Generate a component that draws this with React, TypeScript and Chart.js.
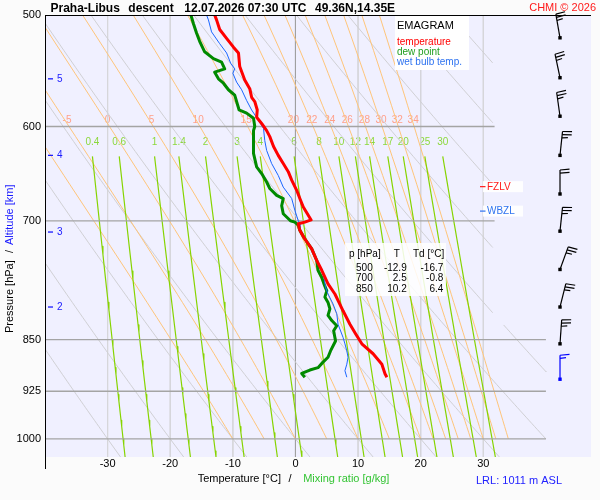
import React, { useEffect, useRef } from "react";
import { Chart, registerables } from "chart.js";

Chart.register(...registerables);

// ---------------- data ----------------
// temperature profile (pressure hPa / °C)
const tempP = [500, 504, 512, 519.5, 527, 532, 544, 556, 564, 572, 576, 584, 591, 597, 604, 610, 620, 629, 637.5, 646, 655, 666, 675, 684.5, 692, 699, 701.5, 703.4, 711, 720, 733, 747, 759, 776, 789, 811, 829, 842, 856, 870, 885, 899, 904];
const tempT = [-12.9, -12.6, -12.1, -11.0, -9.9, -9.1, -8.9, -8.1, -7.3, -7.0, -6.5, -6.1, -6.2, -5.4, -4.6, -4.1, -3.5, -2.75, -1.95, -1.15, -0.6, 0.2, 0.7, 1.25, 1.9, 2.5, 1.5, 0.45, 0.7, 1.4, 2.6, 3.4, 4.2, 5.2, 6.3, 7.6, 8.7, 9.6, 10.6, 12.4, 13.8, 14.3, 14.6];
// dew point profile
const dewP = [500, 507, 515, 522, 531, 537, 540, 546, 549, 555, 559, 565, 570, 578, 584, 587, 592, 600, 604, 617, 627, 641, 648, 657, 664, 671.5, 675, 683, 692, 700, 701.5, 705, 711, 720, 733, 747, 759, 768, 776, 785, 793, 800, 808.5, 817, 824, 831, 838, 852, 866, 875, 882, 890, 893.5, 898.5, 904];
const dewT = [-16.7, -16.3, -15.8, -15.3, -14.5, -13.1, -11.8, -11.3, -12.9, -12.3, -11.5, -10.7, -9.7, -9.3, -9.0, -7.8, -6.7, -6.5, -6.7, -6.7, -6.7, -6.2, -5.4, -4.6, -4.1, -3.0, -1.95, -2.2, -1.95, -0.8, -0.1, 0.45, 0.7, 1.4, 2.6, 3.4, 3.6, 4.2, 4.55, 5.0, 4.7, 5.2, 5.5, 5.2, 5.8, 6.6, 6.1, 6.4, 5.6, 5.2, 4.4, 3.6, 2.3, 1.0, 1.5];
// wet bulb temperature profile
const wbP = [500, 504, 514, 524, 532, 541, 546, 550, 558, 565, 575, 584, 594, 602, 614, 624, 637.5, 650, 662.5, 675, 688, 700, 703, 711, 720, 733, 747, 759, 770, 780, 789, 802, 815, 829, 847, 856, 866, 875, 885, 894.5, 904];
const wbT = [-14.2, -13.9, -13.4, -12.1, -11.0, -10.35, -9.7, -10.0, -9.4, -8.6, -7.8, -7.0, -5.9, -5.1, -4.9, -4.6, -3.8, -2.75, -1.95, -0.6, -0.1, 0.45, 0.7, 0.7, 1.4, 2.6, 3.4, 4.2, 4.6, 4.8, 5.2, 6.0, 6.6, 6.8, 7.6, 7.9, 8.2, 8.4, 8.2, 7.9, 8.2];

// axes / grid
const pressureTicks = [500, 600, 700, 850, 925, 1000];
const pressureLines = [600, 700, 850, 925, 1000];
const pressureLineEndT = [31.8, 31.8, 40, 40, 40];
const tempTicks = [-30, -20, -10, 0, 10, 20, 30];
const altKm = ["5", "4", "3", "2"];
const altP = [555, 629, 713, 806];

// diagram isolines
const mixingRatios = [0.4, 0.6, 1, 1.4, 2, 3, 4, 6, 8, 10, 12, 14, 17, 20, 25, 30];
const mixingRatioLabels = ["0.4", "0.6", "1", "1.4", "2", "3", "4", "6", "8", "10", "12", "14", "17", "20", "25", "30"];
const thetaW = [-10, -5, 0, 5, 10, 15, 20, 22, 24, 26, 28, 30, 32, 34];
const thetaWLabeled = [-5, 0, 5, 10, 15, 20, 22, 24, 26, 28, 30, 32, 34];
const dryTheta = [-30, -20, -10, 0, 10, 20, 30, 40, 50, 60, 70, 80, 90];

// winds (0.5 km steps, 5.5 km .. 1 km)
const windP = [519, 554, 590, 629, 670, 712, 758, 806, 856, 907];
const windDir = [350, 348, 352, 6, 0, 6, 20, 14, 4, 0];
const windKt = [25, 25, 25, 25, 20, 25, 25, 25, 25, 15];

// table
const tableP = ["500", "700", "850"];
const tableT = ["-12.9", "2.5", "10.2"];
const tableTd = ["-16.7", "-0.8", "6.4"];

const fzlvP = 662;
const wbzlP = 689;

// ---------------- helpers ----------------
const FONT = '"Liberation Sans", Arial, Helvetica, sans-serif';
const KAPPA = 0.2857;

function dryT(thetaC: number, p: number) {
  return (thetaC + 273.15) * Math.pow(p / 1000, KAPPA) - 273.15;
}
function dryP(thetaC: number, tC: number) {
  return 1000 * Math.pow((tC + 273.15) / (thetaC + 273.15), 1 / KAPPA);
}
function mixT(w: number, p: number) {
  const e = (w * p) / (622 + w);
  const l = Math.log(e / 6.112);
  return (243.5 * l) / (17.67 - l);
}
function moistPts(twC: number) {
  const Rd = 287.04, Cp = 1005.7, Lv = 2.501e6, eps = 0.622;
  const f = (T: number, p: number) => {
    const Tc = T - 273.15;
    const es = 6.112 * Math.exp((17.67 * Tc) / (Tc + 243.5));
    const rs = (eps * es) / (p - es);
    return (Rd * T + Lv * rs) / (Cp + (Lv * Lv * rs * eps) / (Rd * T * T)) / p;
  };
  let T = twC + 273.15;
  let p = 1000;
  const pts = [{ x: twC, y: 1000 }];
  const dp = -2;
  for (let i = 0; i < 250; i++) {
    const k1 = f(T, p);
    const k2 = f(T + (k1 * dp) / 2, p + dp / 2);
    T += k2 * dp;
    p += dp;
    if (i % 5 === 4) pts.push({ x: T - 273.15, y: p });
  }
  return pts;
}
function interpT(pts: { x: number; y: number }[], p: number) {
  for (let i = 0; i < pts.length - 1; i++) {
    const a = pts[i], b = pts[i + 1];
    if ((a.y - p) * (b.y - p) <= 0) {
      const f = (p - a.y) / (b.y - a.y);
      return a.x + f * (b.x - a.x);
    }
  }
  return pts[pts.length - 1].x;
}
function drySegments(theta: number) {
  const ps: number[] = [];
  for (let p = 500; p <= 1030; p += 5) ps.push(p);
  [dryP(theta, 31.5), dryP(theta, 40)].forEach((p) => {
    if (p > 500 && p < 1030) ps.push(p);
  });
  ps.sort((a, b) => a - b);
  const segs: { x: number; y: number }[][] = [];
  let cur: { x: number; y: number }[] = [];
  ps.forEach((p) => {
    const t = dryT(theta, p);
    const hidden = t > 40.001 || (t > 31.501 && p < 830);
    if (hidden) {
      if (cur.length > 1) segs.push(cur);
      cur = [];
    } else cur.push({ x: t, y: p });
  });
  if (cur.length > 1) segs.push(cur);
  return segs;
}

function zip(ps: number[], ts: number[]) {
  return ps.map((p, i) => ({ x: ts[i], y: p }));
}

function line(data: any[], color: string, width: number, order: number) {
  return {
    data,
    borderColor: color,
    backgroundColor: color,
    borderWidth: width,
    pointRadius: 0,
    showLine: true,
    fill: false,
    tension: 0,
    order,
    borderJoinStyle: "round" as const,
  };
}

function buildDatasets() {
  const ds: any[] = [];
  ds.push(line(zip(tempP, tempT), "#ff0000", 3, 0));
  ds.push(line(zip(wbP, wbT), "#1a66ff", 1, 1));
  ds.push(line(zip(dewP, dewT), "#008a00", 3, 2));
  pressureLines.forEach((p, i) =>
    ds.push(line([{ x: -40, y: p }, { x: pressureLineEndT[i], y: p }], "#a4a4a4", 1.3, 5))
  );
  mixingRatios.forEach((w) => {
    const pts = [];
    for (let p = 630; p <= 1030; p += 10) pts.push({ x: mixT(w, p), y: p });
    ds.push(line(pts, "#86d400", 1.2, 6));
  });
  thetaW.forEach((tw) => ds.push(line(moistPts(tw), "#ffc57a", 1, 7)));
  dryTheta.forEach((th) => drySegments(th).forEach((s) => ds.push(line(s, "#d0d0d4", 1, 8))));
  tempTicks.forEach((t) =>
    ds.push(line([{ x: t, y: 500 }, { x: t, y: 1030 }], t === 0 ? "#a0a0a0" : "#d6d6da", 1, 9))
  );
  return ds;
}

function text(
  ctx: CanvasRenderingContext2D,
  s: string,
  x: number,
  y: number,
  size: number,
  color: string,
  align: CanvasTextAlign = "left",
  baseline: CanvasTextBaseline = "middle",
  bold = false
) {
  ctx.font = `${bold ? "bold " : ""}${size}px ${FONT}`;
  ctx.fillStyle = color;
  ctx.textAlign = align;
  ctx.textBaseline = baseline;
  ctx.fillText(s, x, y);
}

function drawBarb(ctx: CanvasRenderingContext2D, x: number, y: number, dirDeg: number, kt: number, color: string) {
  const L = 24;
  const d = (dirDeg * Math.PI) / 180;
  const ux = Math.sin(d), uy = -Math.cos(d);
  const px = Math.cos(d), py = Math.sin(d);
  const tx = x + ux * L, ty = y + uy * L;
  ctx.strokeStyle = color;
  ctx.fillStyle = color;
  ctx.lineWidth = 1.2;
  ctx.beginPath();
  ctx.moveTo(x, y);
  ctx.lineTo(tx, ty);
  ctx.stroke();
  ctx.fillRect(x - 1.7, y - 1.7, 3.4, 3.4);
  const feather = (pos: number, len: number) => {
    const sx = tx - ux * pos, sy = ty - uy * pos;
    ctx.beginPath();
    ctx.moveTo(sx, sy);
    ctx.lineTo(sx + px * len + ux * 0.8, sy + py * len + uy * 0.8);
    ctx.stroke();
  };
  let rem = Math.round(kt / 5) * 5;
  let pos = 0;
  while (rem >= 10) {
    feather(pos, 9.5);
    rem -= 10;
    pos += 3.2;
  }
  if (rem >= 5) feather(pos, 6);
}

const emagramPlugin = {
  id: "emagram",
  beforeDraw(chart: any) {
    const { ctx, chartArea } = chart;
    ctx.save();
    ctx.fillStyle = "#f0f0ff";
    ctx.fillRect(chartArea.left, chartArea.top, chartArea.right - chartArea.left, chartArea.bottom - chartArea.top);
    ctx.restore();
  },
  beforeDatasetsDraw(chart: any) {
    const { ctx } = chart;
    const X = (v: number) => chart.scales.x.getPixelForValue(v);
    const Y = (v: number) => chart.scales.y.getPixelForValue(v);
    ctx.save();
    thetaWLabeled.forEach((tw) => {
      const t = interpT(moistPts(tw), 597);
      text(ctx, String(tw), X(t), Y(594), 10, "#ffa08a", "center");
    });
    mixingRatios.forEach((w, i) => {
      text(ctx, mixingRatioLabels[i], X(mixT(w, 630)), Y(616), 10, "#8cd83c", "center");
    });
    ctx.restore();
  },
  afterDraw(chart: any) {
    const { ctx, chartArea } = chart;
    const { left, top, right, bottom } = chartArea;
    const X = (v: number) => chart.scales.x.getPixelForValue(v);
    const Y = (v: number) => chart.scales.y.getPixelForValue(v);
    ctx.save();

    // axes lines
    ctx.strokeStyle = "#000";
    ctx.lineWidth = 1;
    ctx.beginPath();
    ctx.moveTo(left + 0.5, top);
    ctx.lineTo(left + 0.5, bottom + 12);
    ctx.moveTo(left, top + 0.5);
    ctx.lineTo(right, top + 0.5);
    ctx.stroke();

    // tick labels
    pressureTicks.forEach((p) => text(ctx, String(p), left - 4, Y(p), 11, "#000", "right"));
    tempTicks.forEach((t) => text(ctx, String(t), X(t), bottom + 6.5, 11, "#000", "center"));

    // altitude labels
    altP.forEach((p, i) => {
      const y = Y(p);
      ctx.strokeStyle = "#1a1aff";
      ctx.lineWidth = 1.3;
      ctx.beginPath();
      ctx.moveTo(left + 3, y);
      ctx.lineTo(left + 8, y);
      ctx.stroke();
      text(ctx, altKm[i], left + 12, y, 10, "#1a1aff", "left");
    });

    // title
    text(ctx, "Praha-Libus", 50.5, 11.5, 12, "#000", "left", "alphabetic", true);
    text(ctx, "descent", 128.3, 11.5, 12, "#000", "left", "alphabetic", true);
    text(ctx, "12.07.2026 07:30 UTC", 184.3, 11.5, 12, "#000", "left", "alphabetic", true);
    text(ctx, "49.36N,14.35E", 315, 11.5, 12, "#000", "left", "alphabetic", true);
    text(ctx, "CHMI \u00a9 2026", 596, 10.8, 11, "#ff1a1a", "right", "alphabetic");

    // legend box
    ctx.fillStyle = "#ffffff";
    ctx.fillRect(395, 16, 74, 54);
    text(ctx, "EMAGRAM", 397, 25.5, 11, "#000", "left");
    text(ctx, "temperature", 397, 42, 10, "#ff0000", "left");
    text(ctx, "dew point", 397, 52, 10, "#1f9e1f", "left");
    text(ctx, "wet bulb temp.", 397, 62, 10, "#2d72f0", "left");

    // table
    ctx.fillStyle = "rgba(255,255,255,0.85)";
    ctx.fillRect(345, 243, 101, 53);
    text(ctx, "p [hPa]", 349, 254, 10, "#000", "left");
    text(ctx, "T", 396.7, 254, 10, "#000", "center");
    text(ctx, "Td [\u00b0C]", 413, 254, 10, "#000", "left");
    tableP.forEach((p, i) => {
      const y = 268.3 + i * 10.3;
      text(ctx, p, 372.7, y, 10, "#000", "right");
      text(ctx, tableT[i], 406.7, y, 10, "#000", "right");
      text(ctx, tableTd[i], 443.3, y, 10, "#000", "right");
    });

    // freezing level labels
    const lvl = (p: number, label: string, color: string) => {
      const y = Y(p);
      ctx.fillStyle = "rgba(255,255,255,0.9)";
      ctx.fillRect(483, y - 5.5, 40, 11);
      ctx.strokeStyle = color;
      ctx.lineWidth = 1.2;
      ctx.beginPath();
      ctx.moveTo(480, y);
      ctx.lineTo(485.5, y);
      ctx.stroke();
      text(ctx, label, 487, y + 0.5, 10, color, "left");
    };
    lvl(fzlvP, "FZLV", "#ff1a1a");
    lvl(wbzlP, "WBZL", "#2d72f0");

    // wind barbs
    const bx = X(42.25);
    windP.forEach((p, i) => {
      drawBarb(ctx, bx, Y(p), windDir[i], windKt[i], i === windP.length - 1 ? "#0000ff" : "#000000");
    });

    // axis titles
    text(ctx, "Temperature [\u00b0C]", 197.7, 479, 11, "#000", "left");
    text(ctx, "/", 288.6, 479, 11, "#000", "left");
    text(ctx, "Mixing ratio [g/kg]", 303.2, 479, 11, "#33c433", "left");
    text(ctx, "LRL: 1011 m ASL", 476, 481, 11, "#2222ff", "left");

    ctx.save();
    ctx.translate(12.5, 333);
    ctx.rotate(-Math.PI / 2);
    text(ctx, "Pressure [hPa]", 0, 0, 11, "#000", "left", "alphabetic");
    text(ctx, "/", 80, 0, 11, "#000", "left", "alphabetic");
    text(ctx, "Altitude [km]", 88, 0, 11, "#1a1aff", "left", "alphabetic");
    ctx.restore();

    ctx.restore();
  },
};

export default function App() {
  const ref = useRef<HTMLCanvasElement>(null);
  useEffect(() => {
    document.body.style.margin = "0";
    document.body.style.background = "#fbfbfb";
    const chart = new Chart(ref.current as HTMLCanvasElement, {
      type: "scatter",
      data: { datasets: buildDatasets() },
      options: {
        responsive: false,
        animation: false,
        events: [],
        layout: { padding: { left: 45, top: 15, right: 9, bottom: 43 } },
        scales: {
          x: { type: "linear", min: -40, max: 47.2, display: false },
          y: { type: "logarithmic", min: 500, max: 1030, reverse: true, display: false },
        },
        plugins: { legend: { display: false }, tooltip: { enabled: false } },
      },
      plugins: [emagramPlugin],
    } as any);
    return () => chart.destroy();
  }, []);
  return (
    <div style={{ width: 600, height: 500 }}>
      <canvas ref={ref} width={600} height={500} style={{ display: "block" }} />
    </div>
  );
}
